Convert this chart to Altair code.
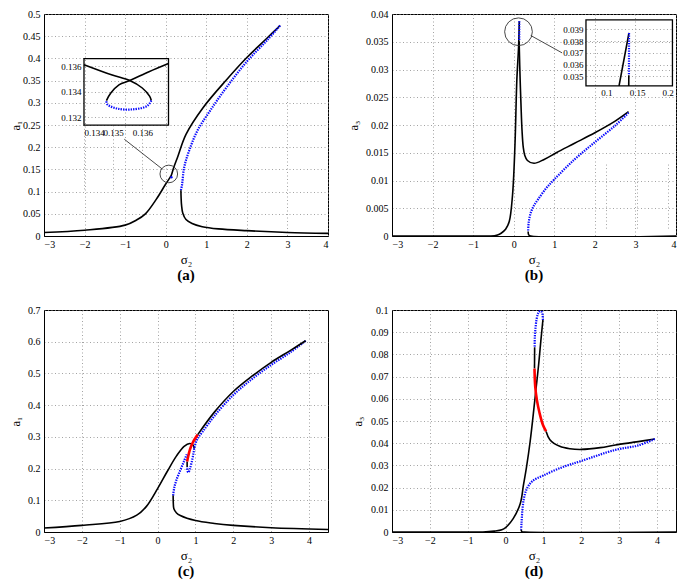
import altair as alt
import pandas as pd

# ---------------- values ----------------
# Panel (a): a1 versus sigma2
A_BLACK_UP_X = [-3, -2, -1, -0.72, -0.5, -0.23, 0.0, 0.1, 0.135, 0.2, 0.29, 0.5, 0.92, 1.5, 2.0, 2.5, 2.82]
A_BLACK_UP_Y = [0.008, 0.013, 0.0245, 0.036, 0.05, 0.083, 0.117, 0.131, 0.136, 0.155, 0.177, 0.229, 0.289, 0.352, 0.402, 0.446, 0.474]
A_BLUE_X = [2.82, 2.5, 2.0, 1.5, 1.1, 0.78, 0.577, 0.456, 0.4, 0.374]
A_BLUE_Y = [0.474, 0.441, 0.393, 0.335, 0.283, 0.237, 0.192, 0.155, 0.114, 0.103]
A_BLACK_LOW_X = [0.374, 0.38, 0.39, 0.42, 0.5, 0.65, 0.9, 1.3, 2.0, 3.0, 4.0]
A_BLACK_LOW_Y = [0.103, 0.085, 0.07, 0.052, 0.037, 0.028, 0.021, 0.016, 0.012, 0.008, 0.006]
A_DOT_X = [0.14]
A_DOT_Y = [0.1325]
# inset (a)
A_IN_XLIM = [0.134, 0.1369]
A_IN_YLIM = [0.1314, 0.1366]
A_IN_XTICKS = [0.134, 0.135, 0.136]
A_IN_YTICKS = [0.132, 0.134, 0.136]
A_IN_K1_X = [0.134, 0.13497, 0.13557, 0.136, 0.13625, 0.13631]
A_IN_K1_Y = [0.13612, 0.13531, 0.13488, 0.1343, 0.13366, 0.13332]
A_IN_B_X = [0.13631, 0.13617, 0.13566, 0.13515, 0.1348, 0.13477]
A_IN_B_Y = [0.13332, 0.1329, 0.13263, 0.13269, 0.13302, 0.13332]
A_IN_K2_X = [0.13477, 0.13492, 0.1352, 0.13557, 0.13623, 0.1369]
A_IN_K2_Y = [0.13332, 0.13391, 0.13455, 0.13488, 0.13557, 0.13621]
A_CIRCLE = [0.076, 0.1397]
A_LINK = [-0.08, 0.1505, -1.021, 0.218]

# Panel (b): a3 versus sigma2
B_BLACK_L_X = [-3, -1, -0.56, -0.4, -0.31, -0.2, -0.11, -0.03, 0.03, 0.077, 0.1206, 0.137]
B_BLACK_L_Y = [0.0, 0.0, 0.0, 0.0002, 0.0005, 0.0012, 0.0026, 0.0073, 0.0162, 0.0281, 0.0342, 0.0387]
B_BLUE_TOP_X = [0.137, 0.1368]
B_BLUE_TOP_Y = [0.0387, 0.0351]
B_BLACK_R_X = [0.1366, 0.1365, 0.155, 0.18, 0.205, 0.235, 0.27, 0.338, 0.5, 0.75, 1.05, 1.5, 2.0, 2.5, 2.83]
B_BLACK_R_Y = [0.0351, 0.0342, 0.029, 0.0235, 0.019, 0.016, 0.0146, 0.0136, 0.0131, 0.0138, 0.015, 0.0167, 0.0186, 0.0207, 0.0224]
B_BLUE_X = [2.83, 2.5, 2.0, 1.5, 1.0, 0.8, 0.6, 0.5, 0.42, 0.37, 0.355]
B_BLUE_Y = [0.0222, 0.0199, 0.0169, 0.0138, 0.0102, 0.0086, 0.0066, 0.0055, 0.0042, 0.0025, 0.0008]
B_BLACK_LOW_X = [0.355, 0.37, 0.42, 4.0]
B_BLACK_LOW_Y = [0.0008, 0.0002, 0.0, 0.0]
# inset (b)
B_IN_XLIM = [0.0665, 0.208]
B_IN_YLIM = [0.0342, 0.0398]
B_IN_XTICKS = [0.1, 0.15, 0.2]
B_IN_YTICKS = [0.035, 0.036, 0.037, 0.038, 0.039]
B_IN_K1_X = [0.1206, 0.1368]
B_IN_K1_Y = [0.0342, 0.0387]
B_IN_B_X = [0.137, 0.1368]
B_IN_B_Y = [0.0387, 0.0351]
B_IN_K2_X = [0.1366, 0.1365]
B_IN_K2_Y = [0.0351, 0.0342]
B_CIRCLE = [0.118, 0.0368]
B_LINK = [0.419, 0.03613, 1.193, 0.03299]

# Panel (c): a1 versus sigma2
C_BLACK_L_X = [-3, -2, -1, -0.55, -0.3, 0.0, 0.25, 0.5, 0.7, 0.85, 0.93, 0.97]
C_BLACK_L_Y = [0.0125, 0.021, 0.033, 0.053, 0.08, 0.137, 0.19, 0.24, 0.27, 0.279, 0.275, 0.263]
C_BLUE_UP_X = [3.91, 3.5, 3.0, 2.5, 2.0, 1.5, 1.2, 1.05, 0.98, 0.95, 0.9, 0.85, 0.815, 0.79, 0.78]
C_BLUE_UP_Y = [0.603, 0.566, 0.527, 0.483, 0.432, 0.366, 0.318, 0.293, 0.27, 0.25, 0.22, 0.198, 0.188, 0.192, 0.205]
C_BLACK_S_X = [0.78, 0.78]
C_BLACK_S_Y = [0.205, 0.222]
C_RED_X = [0.78, 0.81, 0.86, 0.92, 0.99, 1.06]
C_RED_Y = [0.222, 0.24, 0.262, 0.28, 0.295, 0.307]
C_BLACK_UP_X = [1.06, 1.5, 2.0, 2.5, 3.0, 3.5, 3.91]
C_BLACK_UP_Y = [0.307, 0.378, 0.443, 0.492, 0.535, 0.572, 0.603]
C_BLUE_LOW_X = [0.41, 0.44, 0.5, 0.6, 0.7, 0.77]
C_BLUE_LOW_Y = [0.115, 0.14, 0.165, 0.195, 0.224, 0.245]
C_BLACK_LOW_X = [0.41, 0.415, 0.43, 0.5, 0.6, 1.0, 1.5, 2.0, 3.0, 4.5]
C_BLACK_LOW_Y = [0.115, 0.09, 0.073, 0.06, 0.052, 0.036, 0.027, 0.021, 0.0135, 0.008]

# Panel (d): a3 versus sigma2
D_BLACK_L_X = [-3, -1, -0.6, -0.3, -0.1, 0.0, 0.2, 0.39, 0.47, 0.55, 0.65, 0.75, 0.8, 0.87, 0.93, 0.985]
D_BLACK_L_Y = [0.0, 0.0, 0.0, 0.0004, 0.001, 0.002, 0.006, 0.013, 0.021, 0.029, 0.041, 0.056, 0.064, 0.075, 0.086, 0.0955]
D_BLUE_CAP_X = [0.985, 0.975, 0.95, 0.91, 0.86, 0.82, 0.79, 0.772, 0.767]
D_BLUE_CAP_Y = [0.0955, 0.098, 0.0992, 0.0995, 0.0985, 0.096, 0.092, 0.088, 0.0832]
D_BLACK_S_X = [0.767, 0.763]
D_BLACK_S_Y = [0.0832, 0.0736]
D_RED_X = [0.763, 0.783, 0.827, 0.898, 0.984, 1.07]
D_RED_Y = [0.0736, 0.0654, 0.0594, 0.0535, 0.0483, 0.0453]
D_BLACK_R_X = [1.07, 1.17, 1.43, 1.7, 2.0, 2.5, 2.9, 3.5, 3.94]
D_BLACK_R_Y = [0.0453, 0.0416, 0.0386, 0.0375, 0.0372, 0.038, 0.0392, 0.0407, 0.0419]
D_BLUE_X = [3.94, 3.5, 2.9, 2.0, 1.5, 1.0, 0.7, 0.55, 0.48, 0.44, 0.42, 0.41]
D_BLUE_Y = [0.0419, 0.039, 0.037, 0.032, 0.0292, 0.0255, 0.0228, 0.019, 0.0148, 0.009, 0.004, 0.001]
D_BLACK_LOW_X = [0.41, 0.43, 0.5, 4.5]
D_BLACK_LOW_Y = [0.001, 0.0002, 0.0, 0.0]

X_TICKS = [-3, -2, -1, 0, 1, 2, 3, 4]
A_YTICKS = [0, 0.05, 0.1, 0.15, 0.2, 0.25, 0.3, 0.35, 0.4, 0.45, 0.5]
B_YTICKS = [0, 0.005, 0.01, 0.015, 0.02, 0.025, 0.03, 0.035, 0.04]
C_YTICKS = [0, 0.1, 0.2, 0.3, 0.4, 0.5, 0.6, 0.7]
D_YTICKS = [0, 0.01, 0.02, 0.03, 0.04, 0.05, 0.06, 0.07, 0.08, 0.09, 0.1]

# ---------------- layout / style ----------------
W, H = 284, 222
SX, SY = 64, 74
FONT = "Liberation Serif"
BLACK = dict(color="black", strokeWidth=1.6, interpolate="catmull-rom", clip=True)
BLUE = dict(color="#0a0aff", strokeWidth=2.2, strokeDash=[1.4, 1.1], interpolate="catmull-rom", clip=True)
RED = dict(color="#ff0000", strokeWidth=2.6, interpolate="catmull-rom", clip=True)
GRID = dict(grid=True, gridDash=[1, 2.5], gridColor="#8c8c8c", gridWidth=0.8, labelOverlap=False)


def frame(xs, ys):
    return pd.DataFrame({"x": xs, "y": ys, "o": list(range(len(xs)))})


def curve(xs, ys, X, Y, style):
    return alt.Chart(frame(xs, ys)).mark_line(**style).encode(x=X, y=Y, order="o:Q")


def panel(label, xdom, ydom, yticks, yfmt, ytitle, title_x, segments, extras=None, inset=None):
    X = alt.X("x:Q", scale=alt.Scale(domain=xdom, nice=False, zero=False),
              axis=alt.Axis(values=X_TICKS, format="d", title="σ₂", titleFontSize=13,
                            titlePadding=4, labelPadding=3, **GRID))
    Y = alt.Y("y:Q", scale=alt.Scale(domain=ydom, nice=False, zero=False),
              axis=alt.Axis(values=yticks, format=yfmt, title=ytitle, titleFontSize=12.5,
                            titleAngle=270, titleAlign="center", titleBaseline="middle",
                            titleX=title_x, titleY=H / 2, labelPadding=4, **GRID))
    layers = [curve(xs, ys, X, Y, st) for xs, ys, st in segments]
    if extras:
        for e in extras:
            layers.append(e(X, Y))
    main = alt.layer(*layers)
    if inset is not None:
        chart = alt.layer(main, inset).resolve_scale(x="independent", y="independent")
    else:
        chart = main
    return chart.properties(
        width=W, height=H,
        title=alt.TitleParams(label, orient="bottom", anchor="middle", offset=2,
                              font=FONT, fontSize=15, fontWeight="bold"),
    )


def make_inset(xlim, ylim, fx, fy, xticks, yticks, xfmt, yfmt, segments):
    r_x = [fx[0] * W, fx[1] * W]
    r_y = [fy[1] * H, fy[0] * H]
    IX = alt.X("x:Q", scale=alt.Scale(domain=xlim, range=r_x, nice=False, zero=False),
               axis=alt.Axis(orient="bottom", offset=-(H - fy[1] * H), values=xticks, format=xfmt,
                             title=None, domain=False, labelPadding=3, labelFontSize=9, **GRID))
    IY = alt.Y("y:Q", scale=alt.Scale(domain=ylim, range=r_y, nice=False, zero=False),
               axis=alt.Axis(orient="left", offset=-(fx[0] * W), values=yticks, format=yfmt,
                             title=None, domain=False, labelPadding=3, labelFontSize=9, **GRID))
    box = alt.Chart(pd.DataFrame({"x": [xlim[0]], "x2": [xlim[1]], "y": [ylim[0]], "y2": [ylim[1]]})).mark_rect(
        fillOpacity=0, stroke="black", strokeWidth=1.3).encode(x=IX, y=IY, x2="x2:Q", y2="y2:Q")
    lines = [curve(xs, ys, IX, IY, st) for xs, ys, st in segments]
    return alt.layer(box, *lines)


def circle(c, size):
    def f(X, Y):
        return alt.Chart(pd.DataFrame({"x": [c[0]], "y": [c[1]]})).mark_point(
            shape="circle", filled=False, size=size, color="#333333", strokeWidth=0.9, opacity=1
        ).encode(x=X, y=Y)
    return f


def link(l):
    def f(X, Y):
        return alt.Chart(pd.DataFrame({"x": [l[0]], "y": [l[1]], "x2": [l[2]], "y2": [l[3]]})).mark_rule(
            color="#333333", strokeWidth=0.9).encode(x=X, y=Y, x2="x2:Q", y2="y2:Q")
    return f


def dot(xs, ys):
    def f(X, Y):
        return alt.Chart(frame(xs, ys)).mark_point(shape="circle", filled=True, size=6,
                                                   color="#0a0aff", opacity=1).encode(x=X, y=Y)
    return f


inset_a = make_inset(A_IN_XLIM, A_IN_YLIM, [0.1408, 0.4384], [0.2006, 0.5007],
                     A_IN_XTICKS, A_IN_YTICKS, ".3f", ".3f",
                     [(A_IN_K1_X, A_IN_K1_Y, BLACK), (A_IN_B_X, A_IN_B_Y, BLUE), (A_IN_K2_X, A_IN_K2_Y, BLACK)])
inset_b = make_inset(B_IN_XLIM, B_IN_YLIM, [0.683, 0.9875], [0.0267, 0.324],
                     B_IN_XTICKS, B_IN_YTICKS, ".2~f", ".3f",
                     [(B_IN_K1_X, B_IN_K1_Y, BLACK), (B_IN_B_X, B_IN_B_Y, BLUE), (B_IN_K2_X, B_IN_K2_Y, BLACK)])

pa = panel("(a)", [-3, 4], [0, 0.5], A_YTICKS, ".2~f", "a₁", -29,
           [(A_BLACK_UP_X, A_BLACK_UP_Y, BLACK), (A_BLUE_X, A_BLUE_Y, BLUE), (A_BLACK_LOW_X, A_BLACK_LOW_Y, BLACK)],
           extras=[dot(A_DOT_X, A_DOT_Y), circle(A_CIRCLE, 310), link(A_LINK)], inset=inset_a)
pb = panel("(b)", [-3, 4], [0, 0.04], B_YTICKS, ".3~f", "a₃", -39,
           [(B_BLACK_L_X, B_BLACK_L_Y, BLACK), (B_BLUE_TOP_X, B_BLUE_TOP_Y, BLUE),
            (B_BLACK_R_X, B_BLACK_R_Y, BLACK), (B_BLUE_X, B_BLUE_Y, BLUE), (B_BLACK_LOW_X, B_BLACK_LOW_Y, BLACK)],
           extras=[circle(B_CIRCLE, 767), link(B_LINK)], inset=inset_b)
pc = panel("(c)", [-3, 4.5], [0, 0.7], C_YTICKS, ".1~f", "a₁", -29,
           [(C_BLACK_L_X, C_BLACK_L_Y, BLACK), (C_BLUE_UP_X, C_BLUE_UP_Y, BLUE), (C_BLACK_S_X, C_BLACK_S_Y, BLACK),
            (C_RED_X, C_RED_Y, RED), (C_BLACK_UP_X, C_BLACK_UP_Y, BLACK), (C_BLUE_LOW_X, C_BLUE_LOW_Y, BLUE),
            (C_BLACK_LOW_X, C_BLACK_LOW_Y, BLACK)])
pd_ = panel("(d)", [-3, 4.5], [0, 0.1], D_YTICKS, ".2~f", "a₃", -35,
            [(D_BLACK_L_X, D_BLACK_L_Y, BLACK), (D_BLUE_CAP_X, D_BLUE_CAP_Y, BLUE), (D_BLACK_S_X, D_BLACK_S_Y, BLACK),
             (D_RED_X, D_RED_Y, RED), (D_BLACK_R_X, D_BLACK_R_Y, BLACK), (D_BLUE_X, D_BLUE_Y, BLUE),
             (D_BLACK_LOW_X, D_BLACK_LOW_Y, BLACK)])

chart = alt.concat(pa, pb, pc, pd_, columns=2, spacing={"row": SY, "column": SX}, bounds="flush").properties(
    padding={"left": 0, "top": 0, "right": 0, "bottom": 0}
).configure_view(stroke="black", strokeWidth=1).configure_axis(
    domainColor="black", domainWidth=1, ticks=False,
    labelFont=FONT, labelFontSize=10, labelColor="black",
    titleFont=FONT, titleColor="black", titleFontWeight="normal",
).configure_title(font=FONT, color="black")

chart.save("out.html", embed_options={"renderer": "svg", "actions": False})
